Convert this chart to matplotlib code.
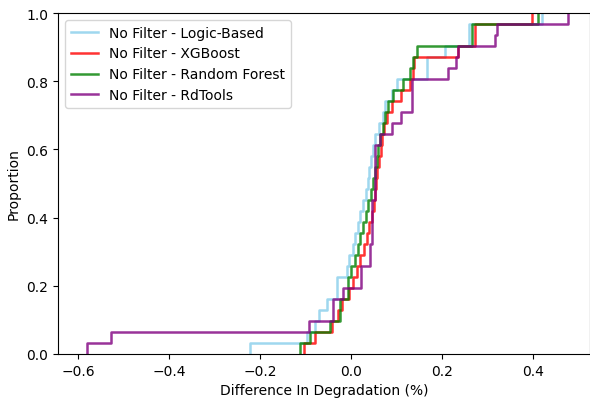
import numpy as np
import matplotlib
matplotlib.use('Agg')
from matplotlib import pyplot as plt
import seaborn as sns

# differences in degradation (%), 31 systems per method
logic_based = [-0.222, -0.097, -0.08, -0.07, -0.053, -0.031, -0.031, -0.01, -0.005, 0.005,
               0.009, 0.015, 0.02, 0.026, 0.032, 0.037, 0.04, 0.044, 0.048, 0.053,
               0.062, 0.07, 0.075, 0.09, 0.1, 0.166, 0.166, 0.207, 0.26, 0.26, 0.42]
xgboost = [-0.103, -0.08, -0.042, -0.028, -0.02, -0.005, 0.005, 0.012, 0.02, 0.028,
           0.035, 0.04, 0.045, 0.05, 0.052, 0.055, 0.058, 0.062, 0.065, 0.067,
           0.072, 0.078, 0.089, 0.11, 0.13, 0.135, 0.138, 0.235, 0.272, 0.272, 0.397]
random_forest = [-0.112, -0.09, -0.046, -0.024, -0.024, -0.007, -0.007, 0.0, 0.009, 0.015,
                 0.02, 0.026, 0.032, 0.038, 0.043, 0.048, 0.052, 0.056, 0.06, 0.064,
                 0.07, 0.075, 0.082, 0.093, 0.113, 0.13, 0.135, 0.144, 0.265, 0.265, 0.41]
rdtools = [-0.58, -0.528, -0.092, -0.04, -0.04, -0.018, 0.021, 0.021, 0.042, 0.042,
           0.045, 0.045, 0.045, 0.045, 0.053, 0.053, 0.053, 0.053, 0.053, 0.064,
           0.089, 0.11, 0.133, 0.133, 0.133, 0.213, 0.23, 0.236, 0.316, 0.32, 0.477]

series = [
    ('No Filter - Logic-Based', logic_based, 'skyblue'),
    ('No Filter - XGBoost', xgboost, 'red'),
    ('No Filter - Random Forest', random_forest, 'green'),
    ('No Filter - RdTools', rdtools, 'purple'),
]

fig = plt.figure(figsize=(5.9, 4.06), dpi=100)
ax = fig.add_axes([58/590, 51/406, 532/590, 341/406])

for label, vals, color in series:
    sns.ecdfplot(x=np.array(vals), ax=ax, label=label, color=color, alpha=0.8, linewidth=1.8)

ax.set_xlim(-0.644, 0.525)
ax.set_ylim(0, 1)
ax.set_xlabel('Difference In Degradation (%)')
ax.set_ylabel('Proportion')
ax.legend(loc='upper left')

fig.savefig('out.png', dpi=100)
